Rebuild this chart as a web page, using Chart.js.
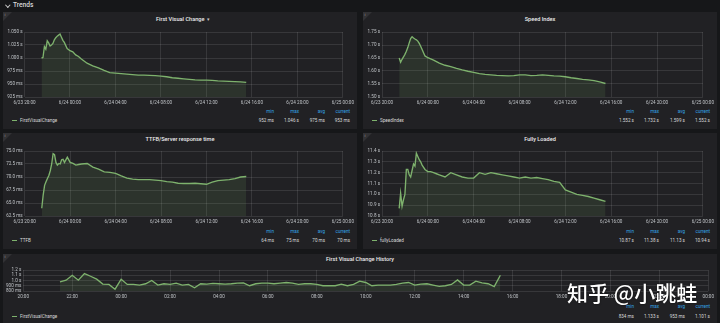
<!DOCTYPE html>
<html><head><meta charset="utf-8">
<script src="https://cdn.jsdelivr.net/npm/chart.js@4.4.1/dist/chart.umd.min.js"></script>
<style>
html,body{margin:0;padding:0;}
body{width:720px;height:323px;overflow:hidden;background:#161719;position:relative;font-family:Roboto,"Open Sans",sans-serif;}
.panel{position:absolute;background:#212124;}
.corner{position:absolute;width:0;height:0;border-top:9px solid #323235;border-right:9px solid transparent;}
.t{position:absolute;white-space:nowrap;height:10px;line-height:10px;}
canvas{position:absolute;}
</style>
</head><body>
<script>
// ---------- DATA ----------
const trendXLabels = ['6/23 20:00','6/24 00:00','6/24 04:00','6/24 08:00','6/24 12:00','6/24 16:00','6/24 20:00','6/25 00:00'];
const historyXLabels = ['20:00','22:00','00:00','02:00','04:00','06:00','08:00','10:00','12:00','14:00','16:00','18:00','20:00','22:00','00:00'];

// hours after 6/23 20:00
const trendHours = [1.5,1.625,1.75,1.875,2,2.125,2.25,2.375,2.5,2.625,2.75,2.875,3,3.125,3.25,3.375,3.5,
  3.75,4,4.25,4.5,4.75,5,
  5.5,6,6.5,7,7.5,8,8.5,9,9.5,10,10.5,11,11.5,12,12.5,13,13.5,14,14.5,15,15.5,16,16.5,17,17.5,18,18.5,19,19.5];

const fvcValues = [1000,1001,1022,1017,1033,1029,1023,1025,1028,1035,1039,1042,1044,1046,1040,1034,1030,
  1018,1014,1012,1006,1003,998,
  990,985,981,976,972,971,970,969,968,967,967,966.5,966,965,964,962,961,960,959,958,957.5,957.5,957,956,955.5,955,954.5,954,953];

const speedValues = [1.650,1.634,1.645,1.654,1.664,1.676,1.690,1.708,1.725,1.732,1.727,1.723,1.720,1.715,1.706,1.695,1.683,
  1.658,1.651,1.647,1.642,1.636,1.630,
  1.622,1.617,1.610,1.604,1.599,1.595,1.590,1.587,1.585,1.583,1.582,1.581,1.582,1.585,1.585,1.582,1.583,1.585,1.583,1.581,1.580,1.578,1.574,1.571,1.568,1.566,1.563,1.558,1.552];

const ttfbValues = [64.0,66.5,68.4,69.1,69.7,70.3,71.2,72.5,74.5,74.3,72.8,72.3,72.6,72.5,73.3,73.4,72.8,
  73.8,72.8,72.6,72.3,72.4,72.5,
  72.6,71.9,71.5,71.0,70.9,70.7,70.2,69.8,69.6,69.5,69.5,69.5,69.4,69.3,69.1,69.0,68.8,68.75,68.75,68.8,68.7,68.6,69.0,69.3,69.4,69.5,69.7,70.0,70.1];

const flValues = [10.87,11.01,10.89,10.95,11.00,11.23,11.23,11.18,11.16,11.22,11.28,11.26,11.38,11.35,11.32,11.30,11.27,
  11.23,11.21,11.21,11.20,11.19,11.18,
  11.16,11.20,11.18,11.16,11.15,11.15,11.20,11.185,11.20,11.19,11.18,11.17,11.16,11.15,11.16,11.15,11.155,11.145,11.135,11.12,11.11,11.04,11.02,11.00,10.99,10.98,10.965,10.95,10.935];

const historyHours = [1.5,1.75,2,2.25,2.5,2.75,3,3.25,
  3.5,3.75,4,4.25,4.5,4.75,5,5.25,
  5.5,5.75,6,6.25,6.5,6.75,7,7.25,
  7.5,7.75,8,8.25,8.5,8.75,9,9.25,
  9.5,9.75,10,10.25,10.5,10.75,11,11.25,
  11.5,11.75,12,12.25,12.5,12.75,13,13.25,
  13.5,13.75,14,14.25,14.5,14.75,15,15.25,
  15.5,15.75,16,16.25,16.5,16.75,17,17.25,
  17.5,17.75,18,18.25,18.5,18.75,19,19.25,19.5];
const historyValues = [975,1006,1100,1006,1133,1081,1025,931,
  925,834,1025,925,925,912,938,1000,
  912,938,925,950,912,925,862,938,
  931,944,938,931,938,950,956,900,
  938,950,950,938,950,962,950,925,
  938,938,925,900,900,900,931,900,
  925,988,962,900,912,912,912,925,
  950,962,912,931,938,912,888,900,
  925,1012,912,912,988,956,938,885,1101];

const fvcYLabels = ['925 ms','950 ms','975 ms','1.000 s','1.025 s','1.050 s'];
const speedYLabels = ['1.50 s','1.55 s','1.60 s','1.65 s','1.70 s','1.75 s'];
const ttfbYLabels = ['62.5 ms','65.0 ms','67.5 ms','70.0 ms','72.5 ms','75.0 ms'];
const flYLabels = ['10.8 s','10.9 s','11.0 s','11.1 s','11.2 s','11.3 s','11.4 s'];
const historyYLabels = ['800 ms','900 ms','1.0 s','1.1 s','1.2 s'];

const statHeaders = ['min','max','avg','current'];
const fvcStats = ['952 ms','1.046 s','975 ms','953 ms'];
const speedStats = ['1.552 s','1.732 s','1.599 s','1.552 s'];
const ttfbStats = ['64 ms','75 ms','70 ms','70 ms'];
const flStats = ['10.87 s','11.38 s','11.13 s','10.94 s'];
const historyStats = ['834 ms','1.133 s','953 ms','1.101 s'];

// ---------- STYLE ----------
const LINE = '#7eb26d';
const FILL = 'rgba(126,178,109,0.12)';
const GRID = 'rgba(255,255,255,0.10)';
const TICK = '#c0c4c8';
Chart.defaults.font.family = 'Roboto, "Open Sans", sans-serif';

function txt(x, y, s, o) {
  o = o || {};
  const d = document.createElement('div');
  d.className = 't';
  d.textContent = s;
  d.style.top = (y - 5) + 'px';
  d.style.fontSize = (o.size || 4.6) + 'px';
  d.style.color = o.color || '#d8d9da';
  if (o.weight) d.style.fontWeight = o.weight;
  if (o.align === 'right') { d.style.right = (720 - x) + 'px'; d.style.textAlign = 'right'; }
  else if (o.align === 'center') { d.style.left = (x - 150) + 'px'; d.style.width = '300px'; d.style.textAlign = 'center'; }
  else d.style.left = x + 'px';
  document.body.appendChild(d);
  return d;
}

function makePanel(p) {
  const pd = document.createElement('div');
  pd.className = 'panel';
  pd.style.left = p.left + 'px'; pd.style.top = p.top + 'px';
  pd.style.width = (p.right - p.left) + 'px'; pd.style.height = (p.bottom - p.top) + 'px';
  document.body.appendChild(pd);
  const c = document.createElement('div');
  c.className = 'corner'; c.style.left = p.left + 'px'; c.style.top = p.top + 'px';
  document.body.appendChild(c);
  txt(p.left + 1.5, p.top + 3, 'i', {size: 4, color: '#9a9a9a'});

  const tt = txt((p.left + p.right) / 2 + (p.caret ? 3 : 0), p.titleY, p.title, {size: 5.6, color: '#ececec', weight: 500, align: 'center'});
  if (p.caret) {
    const s = document.createElement('span');
    s.textContent = ' \u25BE';
    s.style.cssText = 'margin-left:1.5px;font-size:4.6px;color:#c8c8c8;';
    tt.appendChild(s);
  }

  // legend
  const sw = document.createElement('div');
  sw.style.cssText = 'position:absolute;height:1.3px;width:5px;background:' + LINE + ';left:' + (p.left + 9) + 'px;top:' + (p.valY - 0.5) + 'px';
  document.body.appendChild(sw);
  txt(p.left + 17, p.valY, p.name, {size: 4.6});
  const offs = [83, 58, 32, 7];
  offs.forEach((o, i) => {
    txt(p.right - o, p.hdrY, statHeaders[i], {size: 4.6, color: '#33a2e5', align: 'right'});
    txt(p.right - o, p.valY, p.stats[i], {size: 4.6, align: 'right'});
  });

  // chart
  const padTop = 6, xH = 11;
  const plotH = Math.round(p.plotBottom - p.plotTop);
  const W = p.right - p.left;
  const H = plotH + padTop + xH;
  const cv = document.createElement('canvas');
  cv.width = W; cv.height = H;
  cv.style.left = p.left + 'px'; cv.style.top = Math.round(p.plotTop - padTop) + 'px';
  cv.style.width = W + 'px'; cv.style.height = H + 'px';
  document.body.appendChild(cv);
  const yl = p.yLabels, xl = p.xLabels;
  new Chart(cv, {
    type: 'line',
    data: {datasets: [{
      data: p.hours.map((h, i) => ({x: h, y: p.values[i]})),
      borderColor: LINE, backgroundColor: FILL, borderWidth: 1.35,
      pointRadius: 0, fill: 'start', tension: 0
    }]},
    options: {
      responsive: false, animation: false, devicePixelRatio: 1,
      layout: {padding: {top: padTop, right: p.right - p.plotRight, left: 0, bottom: 0}},
      plugins: {legend: {display: false}, tooltip: {enabled: false}},
      scales: {
        x: {
          type: 'linear', min: 0, max: 28,
          ticks: {stepSize: p.xStep, autoSkip: false, maxRotation: 0, minRotation: 0, padding: 3,
            color: TICK, font: {size: 4.6},
            callback: v => xl[Math.round(v / p.xStep)]},
          grid: {color: GRID, drawTicks: false, lineWidth: 1},
          border: {display: false},
          afterFit: s => { s.height = xH; }
        },
        y: {
          min: p.yMin, max: p.yMax,
          ticks: {stepSize: p.yStep, autoSkip: false, padding: 2, color: TICK, font: {size: 4.6},
            callback: v => yl[Math.round((v - p.yMin) / p.yStep)]},
          grid: {color: GRID, drawTicks: false, lineWidth: 1},
          border: {display: false},
          afterFit: s => { s.width = p.plotLeft - p.left; }
        }
      }
    }
  });
}

// Row header
(function(){
  const ch = document.createElement('div');
  ch.style.cssText = 'position:absolute;left:6px;top:3px;width:2.6px;height:2.6px;border-right:1px solid #c8c8c8;border-bottom:1px solid #c8c8c8;transform:rotate(45deg);';
  document.body.appendChild(ch);
  txt(13, 5, 'Trends', {size: 6.6, color: '#d8d9da', weight: 500});
})();

makePanel({left: 3, right: 357, top: 12, bottom: 129, title: 'First Visual Change', caret: true, titleY: 19.3,
  plotTop: 32, plotBottom: 97, plotLeft: 24.5, plotRight: 345, hdrY: 112, valY: 120.7,
  hours: trendHours, values: fvcValues, xLabels: trendXLabels, xStep: 4,
  yLabels: fvcYLabels, yMin: 925, yMax: 1050, yStep: 25, name: 'FirstVisualChange', stats: fvcStats});

makePanel({left: 363, right: 717, top: 12, bottom: 129, title: 'Speed Index', titleY: 19.3,
  plotTop: 32, plotBottom: 97, plotLeft: 382, plotRight: 705, hdrY: 112, valY: 120.7,
  hours: trendHours, values: speedValues, xLabels: trendXLabels, xStep: 4,
  yLabels: speedYLabels, yMin: 1.5, yMax: 1.75, yStep: 0.05, name: 'SpeedIndex', stats: speedStats});

makePanel({left: 3, right: 357, top: 133, bottom: 249, title: 'TTFB/Server response time', titleY: 139.3,
  plotTop: 151, plotBottom: 216, plotLeft: 24.7, plotRight: 345, hdrY: 231.7, valY: 240.7,
  hours: trendHours, values: ttfbValues, xLabels: trendXLabels, xStep: 4,
  yLabels: ttfbYLabels, yMin: 62.5, yMax: 75, yStep: 2.5, name: 'TTFB', stats: ttfbStats});

makePanel({left: 363, right: 717, top: 133, bottom: 249, title: 'Fully Loaded', titleY: 139.3,
  plotTop: 151, plotBottom: 216, plotLeft: 382, plotRight: 705, hdrY: 231.7, valY: 240.7,
  hours: trendHours, values: flValues, xLabels: trendXLabels, xStep: 4,
  yLabels: flYLabels, yMin: 10.8, yMax: 11.4, yStep: 0.1, name: 'fullyLoaded', stats: flStats});

makePanel({left: 3, right: 717, top: 254, bottom: 323, title: 'First Visual Change History', titleY: 258.5,
  plotTop: 270, plotBottom: 291, plotLeft: 23.3, plotRight: 710, hdrY: 307.3, valY: 316.5,
  hours: historyHours, values: historyValues, xLabels: historyXLabels, xStep: 2,
  yLabels: historyYLabels, yMin: 800, yMax: 1200, yStep: 100, name: 'FirstVisualChange', stats: historyStats});

// watermark
const wm = document.createElement('div');
wm.textContent = '知乎 @小跳蛙';
wm.style.cssText = 'position:absolute;left:567px;top:280px;font-size:21px;line-height:24px;color:#fff;font-family:"Noto Sans CJK SC",sans-serif;font-weight:500;text-shadow:0 0 2px rgba(0,0,0,0.7);white-space:nowrap;';
document.body.appendChild(wm);
</script>
</body></html>
